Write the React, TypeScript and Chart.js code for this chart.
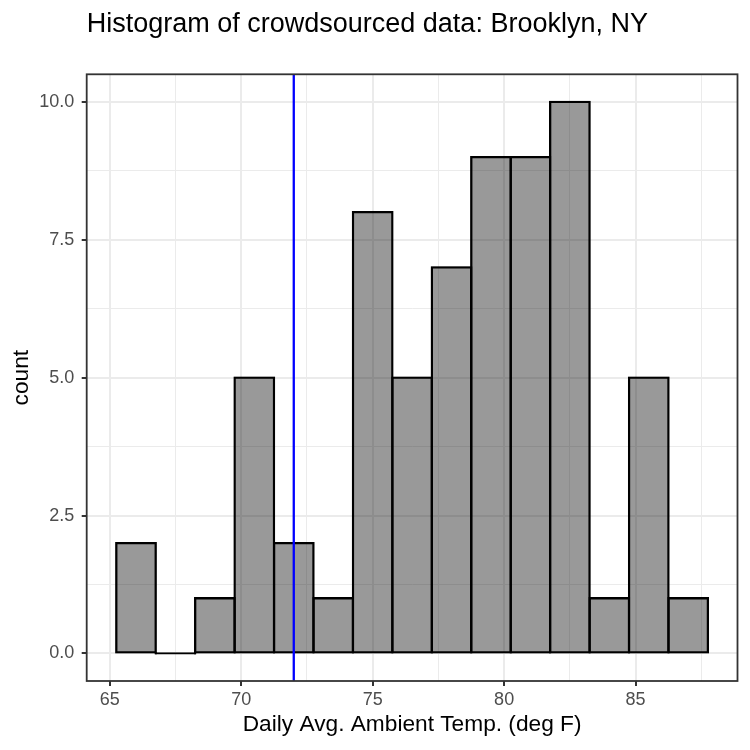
import { useEffect, useRef } from "react";
import { Chart, registerables } from "chart.js";

Chart.register(...registerables);

const FONT = '"Liberation Sans", Arial, Helvetica, sans-serif';

const titleText = "Histogram of crowdsourced data: Brooklyn, NY";
const xAxisTitle = "Daily Avg. Ambient Temp. (deg F)";
const yAxisTitle = "count";

// Histogram bins: centre of each 1.5 °F bin and its count
const binCenters = [66, 67.5, 69, 70.5, 72, 73.5, 75, 76.5, 78, 79.5, 81, 82.5, 84, 85.5, 87];
const binCounts = [2, 0, 1, 5, 2, 1, 8, 5, 7, 9, 9, 10, 1, 5, 1];

// Reference temperature marked with a vertical line
const referenceTemp = 72;

// Axis breaks
const xMajorTicks = [65, 70, 75, 80, 85];
const xMinorTicks = [67.5, 72.5, 77.5, 82.5, 87.5];
const yMajorTicks = [0, 2.5, 5, 7.5, 10];
const yMinorTicks = [1.25, 3.75, 6.25, 8.75];

// Axis limits
const xLimits = [64.125, 88.875];
const yLimits = [-0.5, 10.5];

const GRID = "#EBEBEB";
const INK = "#333333";
const TICK_TEXT = "#4D4D4D";

// Bar outline: a hairline border inflated outward so the dark ring is
// centred on each bin edge (shared edges between bins stay one line thick).
const OUTLINE = 2.3;

const hasValue = (list: number[], v: number) => list.some((t) => Math.abs(t - v) < 1e-9);

const tickSet = (major: number[], minor: number[]) =>
  [...major, ...minor].sort((a, b) => a - b).map((value) => ({ value }));

// Panel border and plot title
const panelDecor = {
  id: "panelDecor",
  afterDatasetsDraw(chart: any) {
    const { ctx, chartArea: a } = chart;
    ctx.save();
    ctx.strokeStyle = INK;
    ctx.lineWidth = 1.8;
    ctx.strokeRect(a.left, a.top, a.right - a.left, a.bottom - a.top);
    ctx.restore();
  },
  afterDraw(chart: any) {
    const { ctx, chartArea: a } = chart;
    ctx.save();
    ctx.fillStyle = "#000000";
    ctx.font = `27px ${FONT}`;
    ctx.textAlign = "left";
    ctx.textBaseline = "alphabetic";
    ctx.fillText(titleText, a.left, 32);
    ctx.restore();
  },
};

// An empty bin collapses to its outline: a dark line on the baseline
const binFill = (c: any) => {
  const i = c && typeof c.dataIndex === "number" ? c.dataIndex : -1;
  return i >= 0 && binCounts[i] === 0 ? "#000000" : "rgba(0,0,0,0.4)";
};

export default function App() {
  const canvasRef = useRef<HTMLCanvasElement | null>(null);

  useEffect(() => {
    const canvas = canvasRef.current;
    if (!canvas) return;

    const histogram = binCenters.map((x, i) => ({ x, y: binCounts[i] }));
    const refLine = [
      { x: referenceTemp, y: yLimits[0] },
      { x: referenceTemp, y: yLimits[1] },
    ];

    const chart = new Chart(canvas, {
      type: "bar",
      data: {
        datasets: [
          {
            type: "line",
            data: refLine,
            borderColor: "#0000FF",
            borderWidth: 2.3,
            pointRadius: 0,
            fill: false,
            order: 0,
          } as any,
          {
            type: "bar",
            data: histogram,
            backgroundColor: binFill,
            borderColor: "#000000",
            borderWidth: 0.01,
            borderSkipped: false,
            inflateAmount: OUTLINE / 2,
            minBarLength: 0.02,
            barPercentage: 1,
            categoryPercentage: 1,
            order: 1,
          } as any,
        ],
      },
      options: {
        animation: false,
        responsive: false,
        devicePixelRatio: 1,
        layout: { padding: { top: 74.3, right: 12.5, bottom: 0, left: 0 } },
        plugins: {
          legend: { display: false },
          tooltip: { enabled: false },
          title: { display: false },
        },
        scales: {
          x: {
            type: "linear",
            min: xLimits[0],
            max: xLimits[1],
            offset: false,
            afterBuildTicks: (scale: any) => {
              scale.ticks = tickSet(xMajorTicks, xMinorTicks);
            },
            afterFit: (scale: any) => {
              scale.height = 69;
            },
            ticks: {
              autoSkip: false,
              maxRotation: 0,
              padding: 3,
              color: TICK_TEXT,
              font: { family: FONT, size: 18 },
              callback: (v: any) => (hasValue(xMajorTicks, Number(v)) ? String(v) : ""),
            },
            grid: {
              offset: false,
              color: GRID,
              lineWidth: (c: any) => (c.tick && hasValue(xMajorTicks, c.tick.value) ? 2 : 1),
              tickLength: 5,
              tickWidth: 2,
              tickColor: (c: any) =>
                c.tick && hasValue(xMajorTicks, c.tick.value) ? INK : "rgba(0,0,0,0)",
            },
            border: { display: false },
            title: {
              display: true,
              text: xAxisTitle,
              color: "#000000",
              font: { family: FONT, size: 22.7 },
              padding: { top: 0, bottom: 11.9 },
            },
          },
          y: {
            type: "linear",
            min: yLimits[0],
            max: yLimits[1],
            afterBuildTicks: (scale: any) => {
              scale.ticks = tickSet(yMajorTicks, yMinorTicks);
            },
            afterFit: (scale: any) => {
              scale.width = 86.7;
            },
            ticks: {
              autoSkip: false,
              padding: 7.4,
              color: TICK_TEXT,
              font: { family: FONT, size: 18 },
              callback: (v: any) =>
                hasValue(yMajorTicks, Number(v)) ? Number(v).toFixed(1) : "",
            },
            grid: {
              color: GRID,
              lineWidth: (c: any) => (c.tick && hasValue(yMajorTicks, c.tick.value) ? 2 : 1),
              tickLength: 5,
              tickWidth: 2,
              tickColor: (c: any) =>
                c.tick && hasValue(yMajorTicks, c.tick.value) ? INK : "rgba(0,0,0,0)",
            },
            border: { display: false },
            title: {
              display: true,
              text: yAxisTitle,
              color: "#000000",
              font: { family: FONT, size: 22.7 },
              padding: { top: 8.2, bottom: 0 },
            },
          },
        },
      } as any,
      plugins: [panelDecor],
    });

    return () => chart.destroy();
  }, []);

  return (
    <canvas
      ref={canvasRef}
      width={750}
      height={750}
      style={{ position: "absolute", left: 0, top: 0, width: 750, height: 750, display: "block" }}
    />
  );
}
